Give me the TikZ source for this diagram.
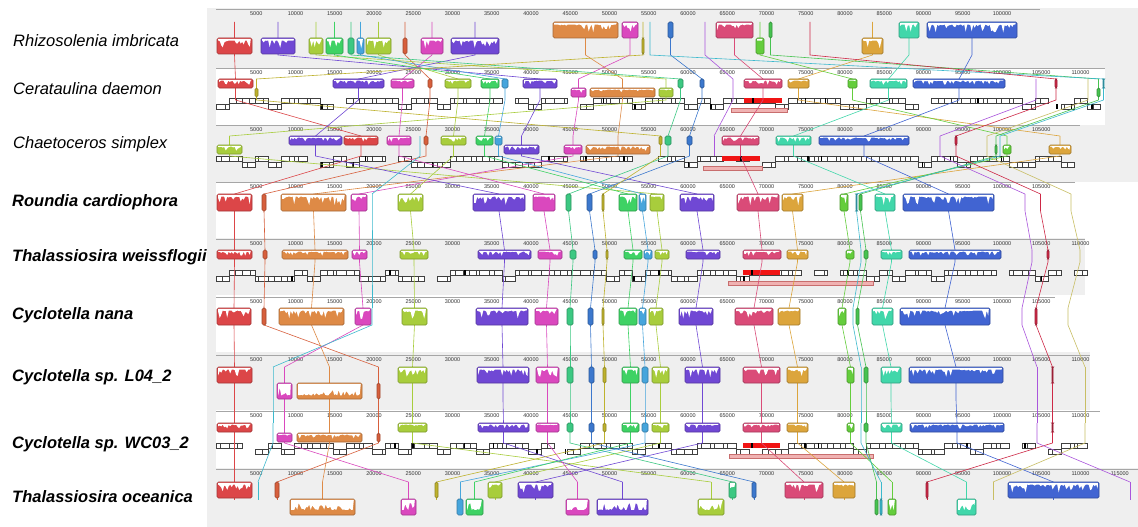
\documentclass[tikz,border=0pt]{standalone}
\usepackage{fontspec}
\setmainfont{Liberation Sans}
\usepackage{tikz}

\definecolor{panelgray}{RGB}{239,239,239}
\definecolor{lcbred}{RGB}{220,70,72}
\definecolor{lcbrust}{RGB}{215,95,60}
\definecolor{lcborange}{RGB}{222,138,70}
\definecolor{lcbmagenta}{RGB}{218,72,190}
\definecolor{lcblime}{RGB}{168,205,60}
\definecolor{lcbpurple}{RGB}{112,72,212}
\definecolor{lcbmint}{RGB}{60,200,130}
\definecolor{lcbblue}{RGB}{60,120,205}
\definecolor{lcbsky}{RGB}{70,165,220}
\definecolor{lcbolive}{RGB}{190,178,45}
\definecolor{lcbgreen}{RGB}{62,210,100}
\definecolor{lcbrose}{RGB}{218,75,120}
\definecolor{lcbgold}{RGB}{220,165,60}
\definecolor{lcbleaf}{RGB}{100,205,60}
\definecolor{lcbfern}{RGB}{70,195,80}
\definecolor{lcbcyan}{RGB}{60,185,205}
\definecolor{lcbturq}{RGB}{65,215,170}
\definecolor{lcbroyal}{RGB}{65,100,210}
\definecolor{lcbcrim}{RGB}{205,40,70}
\definecolor{lcbviolet}{RGB}{170,85,220}
\definecolor{lcbkhaki}{RGB}{200,190,100}
\definecolor{rrnared}{RGB}{240,20,20}
\definecolor{rrnapale}{RGB}{240,178,178}
\definecolor{rrnaedge}{RGB}{200,110,110}

\tikzset{
    lcbblock/.style={fill=#1, draw=#1!75!black, line width=0.7pt, rounded corners=1.5pt},
    lcbline/.style={draw=#1, line width=0.6pt},
    genebox/.style={draw=black!75, fill=white, line width=0.35pt},
    ticklab/.style={font=\fontsize{5.5}{6}\selectfont, text=black!80, inner sep=0pt},
    rulerline/.style={draw=black!35, line width=0.8pt},
    specieslab/.style={anchor=base west, inner sep=0pt, font=\fontsize{16.5}{18}\selectfont\itshape},
    specieslabbf/.style={anchor=base west, inner sep=0pt, font=\fontsize{16.5}{18}\selectfont\bfseries\itshape},
    rrnabar/.style={fill=rrnapale, draw=rrnaedge, line width=0.5pt}}

\newcommand\ruler[4]{%
    \draw[rulerline] (216,#2-5) -- (#3,#2-5);
    \foreach \k in {5,10,...,#4}{
        \node[ticklab] (tick-#1-\k) at ({217+7.85*\k},#2) {\k000};
    }
}

\newcommand\genes[4]{%
    \pgfmathsetseed{#4}
    \foreach \gi in {0,...,#3}{
        \pgfmathsetmacro\gx{#2+13*\gi}
        \pgfmathsetmacro\gy{#1+(rnd<0.62 ? 0 : 6)}
        \pgfmathsetmacro\gs{\gx+3+7*rnd}
        \pgfmathtruncatemacro\gskip{rnd<0.08 ? 1 : 0}
        \ifnum\gskip=0
            \draw[genebox] (\gx,\gy) rectangle (\gs,\gy+5);
            \draw[genebox] (\gs,\gy) rectangle (\gx+13,\gy+5);
        \fi
        \pgfmathtruncatemacro\gtrna{rnd<0.14 ? 1 : 0}
        \ifnum\gtrna=1
            \pgfmathsetmacro\gtx{\gx+11*rnd}
            \fill[black] (\gtx,\gy) rectangle (\gtx+1.6,\gy+5);
        \fi
    }
}

\newcommand\lcb[5]{%
    \foreach \xl/\xr/\tr [count=\rw] in {#5}{
        \pgfmathtruncatemacro\ri{\rw-1}
        \pgfmathsetmacro\xc{(\xl+\xr)/2}
        \pgfmathsetmacro\yi{{22,79,136,194,250,308,367,423,482}[\ri]}
        \pgfmathsetmacro\yo{{55,100,156,211,262,325,400,443,500}[\ri]}
        \coordinate (#1-\rw-in) at (\xc,\yi);
        \coordinate (#1-\rw-out) at (\xc,\yo);
    }
    \pgfmathtruncatemacro\lastseg{#4-1}
    \foreach \rw [evaluate=\rw as \rn using int(\rw+1)] in {#3,...,\lastseg}{
        \draw[lcbline=#2] (#1-\rw-in) -- (#1-\rw-out) -- (#1-\rn-in);
    }
    \draw[lcbline=#2] (#1-#4-in) -- (#1-#4-out);
    \foreach \xl/\xr/\tr [count=\rw] in {#5}{
        \pgfmathtruncatemacro\ri{\rw-1}
        \if n\tr\else
            \def\pbase{0.12}\def\pamp{0.55}
            \if u\tr
                \pgfmathsetmacro\yt{{22,79,136,194,250,308,367,423,482}[\ri]}
            \else
                \pgfmathsetmacro\yt{{38,88,145,211,259,325,383,433,499}[\ri]}
                \ifnum\rw=7 \def\pbase{0.8}\def\pamp{-0.55}\fi
                \ifnum\rw=9 \def\pbase{0.7}\def\pamp{-0.5}\fi
            \fi
            \pgfmathsetmacro\hh{{16,9,9,17,9,17,16,9,16}[\ri]}
            \draw[lcbblock=#2] (\xl,\yt) rectangle (\xr,\yt+\hh);
            \pgfmathsetmacro\bw{\xr-\xl}
            \ifdim\bw pt>6pt
                \pgfmathsetmacro\pa{\xl+1.2}
                \pgfmathsetmacro\pb{\xl+2.7}
                \pgfmathsetmacro\pe{\xr-1.2}
                \fill[white] (\pa,\yt+0.8) \foreach \px in {\pa,\pb,...,\pe}{ -- (\px,{\yt+0.8+(\hh-1.6)*(\pbase+\pamp*rnd^4)}) } -- (\pe,\yt+0.8) -- cycle;
            \fi
        \fi
    }
}

\begin{document}
\begin{tikzpicture}[x=1pt, y=-1pt]

    \useasboundingbox (0,0) rectangle (1138,527);
    \fill[white] (0,0) rectangle (1138,527);

    \fill[panelgray] (207,8) rectangle (1138,527);
    \fill[white] (216,68) rectangle (1105,125);
    \fill[white] (216,182) rectangle (1138,238);
    \fill[white] (1085,238) rectangle (1138,295);
    \fill[white] (216,295) rectangle (1138,352);
    \fill[white] (1090,352) rectangle (1138,410);
    \fill[white] (216,410) rectangle (1138,468);

    \ruler{1}{14}{1040}{100}
    \ruler{2}{73}{1105}{110}
    \ruler{3}{130}{1080}{105}
    \ruler{4}{187}{1075}{105}
    \ruler{5}{244}{1085}{110}
    \ruler{6}{302}{1055}{105}
    \ruler{7}{360}{1090}{110}
    \ruler{8}{416}{1100}{110}
    \ruler{9}{474}{1138}{115}

    \genes{98}{216}{67}{11}
    \genes{156}{216}{65}{23}
    \genes{270}{216}{66}{37}
    \genes{443}{216}{66}{41}

    \fill[rrnared] (744,98) rectangle (782,103);
    \fill[rrnared] (722,156) rectangle (760,161);
    \fill[rrnared] (743,270) rectangle (780,275);
    \fill[rrnared] (743,443) rectangle (780,448);
    \fill[black] (752,98) rectangle (753.6,103);
    \fill[black] (740,156) rectangle (741.6,161);
    \fill[black] (751,270) rectangle (752.6,275);
    \fill[black] (751,443) rectangle (752.6,448);

    \draw[rrnabar] (731,108) rectangle (787,112);
    \draw[rrnabar] (703,166) rectangle (762,170);
    \draw[rrnabar] (728,281) rectangle (873,285);
    \draw[rrnabar] (729,454) rectangle (873,458);

    \pgfmathsetseed{7}
    \lcb{A}{lcbred}{1}{9}{217/252/d, 218/253/u, 344/378/u, 217/252/u, 217/252/u, 217/251/u, 217/252/u, 217/252/u, 217/252/u}
    \lcb{B}{lcbrust}{1}{9}{403/407/d, 428/432/u, 424/428/u, 262/266/u, 263/267/u, 262/266/u, 377/380/d, 377/380/d, 275/279/u}
    \lcb{C}{lcborange}{1}{9}{553/618/u, 590/655/d, 586/650/d, 281/346/u, 282/348/u, 279/344/u, 297/362/d, 297/362/d, 290/355/d}
    \lcb{D}{lcbmagenta}{1}{9}{622/638/u, 571/586/d, 564/582/d, 351/367/u, 352/367/u, 355/371/u, 277/292/d, 277/292/d, 401/416/d}
    \lcb{E}{lcblime}{1}{9}{366/391/d, 445/471/u, 441/466/u, 398/423/u, 400/428/u, 402/427/u, 398/427/u, 398/427/u, 698/724/d}
    \lcb{F}{lcblime}{1}{9}{309/323/d, 659/673/d, 217/242/d, 650/664/u, 655/669/u, 649/663/u, 652/669/u, 652/669/u, 488/502/u}
    \lcb{G}{lcbpurple}{1}{9}{451/499/d, 333/384/u, 289/342/u, 473/525/u, 478/531/u, 476/528/u, 477/529/u, 478/529/u, 597/648/d}
    \lcb{H}{lcbpurple}{1}{9}{261/295/d, 523/557/u, 504/539/d, 680/714/u, 686/720/u, 679/713/u, 685/720/u, 685/720/u, 518/553/u}
    \lcb{I}{lcbmagenta}{1}{9}{421/443/d, 391/414/u, 387/411/u, 533/555/u, 538/562/u, 535/558/u, 536/559/u, 536/559/u, 566/589/d}
    \lcb{J}{lcbmint}{1}{9}{348/354/d, 678/683/u, 665/671/u, 566/571/u, 570/576/u, 567/573/u, 567/573/u, 567/573/u, 729/736/u}
    \lcb{K}{lcbblue}{1}{9}{668/673/u, 700/704/u, 687/692/u, 587/592/u, 593/597/u, 588/593/u, 589/594/u, 589/594/u, 752/756/u}
    \lcb{L}{lcbsky}{1}{9}{357/364/d, 502/508/u, 495/502/u, 639/646/u, 644/652/u, 639/646/u, 642/648/u, 642/648/u, 457/463/d}
    \lcb{M}{lcbolive}{1}{9}{642/644/d, 255/258/d, 659/662/u, 602/604/u, 606/608/u, 602/604/u, 603/606/u, 603/606/u, 435/438/u}
    \lcb{N}{lcbgreen}{1}{9}{326/343/d, 481/499/u, 476/493/u, 619/637/u, 624/642/u, 619/637/u, 622/639/u, 622/639/u, 466/483/d}
    \lcb{O}{lcbrose}{1}{9}{716/753/u, 744/782/u, 722/759/u, 737/779/u, 743/781/u, 735/773/u, 743/780/u, 743/780/u, 785/823/u}
    \lcb{P}{lcbgold}{1}{9}{862/883/d, 788/809/u, 1049/1071/d, 782/803/u, 787/808/u, 778/800/u, 787/808/u, 787/808/u, 833/855/u}
    \lcb{Q}{lcbleaf}{1}{9}{756/764/d, 848/857/u, 1003/1011/d, 840/848/u, 846/854/u, 838/846/u, 847/854/u, 847/854/u, 888/896/d}
    \lcb{R}{lcbfern}{1}{9}{769/772/u, 1097/1100/d, 995/997/d, 859/862/u, 864/868/u, 856/859/u, 864/868/u, 864/868/u, 875/878/d}
    \lcb{S}{lcbcyan}{1}{9}{650/650/n, 1103/1104/u, 1000/1000/n, 856/857/u, 861/861/n, 853/853/n, 861/861/n, 861/861/n, 880/882/d}
    \lcb{T}{lcbturq}{1}{9}{899/919/u, 870/907/u, 776/811/u, 875/895/u, 881/902/u, 872/893/u, 881/901/u, 881/902/u, 957/976/d}
    \lcb{U}{lcbroyal}{1}{9}{927/1017/u, 913/1005/u, 819/909/u, 903/994/u, 909/1001/u, 900/990/u, 909/1003/u, 910/1004/u, 1008/1099/u}
    \lcb{V}{lcbcrim}{1}{9}{810/810/n, 1055/1057/u, 955/957/u, 1040/1041/n, 1047/1049/u, 1035/1037/u, 1052/1053/u, 1052/1053/u, 926/928/u}
    \lcb{W}{lcbviolet}{2}{9}{1036/1036/n, 1036/1036/n, 940/940/n, 1025/1025/n, 1032/1032/n, 1022/1022/n, 1037/1037/n, 1037/1037/n, 1130/1130/n}
    \lcb{X}{lcbkhaki}{2}{9}{1088/1088/n, 1088/1088/n, 987/987/n, 1071/1071/n, 1080/1080/n, 1068/1068/n, 1085/1085/n, 1085/1085/n, 993/993/n}
    \lcb{Y}{lcbcyan}{3}{9}{420/420/n, 420/420/n, 420/420/n, 372/372/n, 372/372/n, 372/372/n, 273/273/n, 273/273/n, 258/258/n}
    \lcb{Z}{lcbviolet}{1}{3}{705/705/n, 733/733/n, 714/714/n}

    \node[specieslab] (rhizo) at (13,47) {Rhizosolenia imbricata};
    \node[specieslab] (cerat) at (13,95) {Cerataulina daemon};
    \node[specieslab] (chaeto) at (13,148) {Chaetoceros simplex};
    \node[specieslabbf] (roundia) at (12,206) {Roundia cardiophora};
    \node[specieslabbf] (tweiss) at (12,261) {Thalassiosira weissflogii};
    \node[specieslabbf] (cnana) at (12,319) {Cyclotella nana};
    \node[specieslabbf] (cl04) at (12,381) {Cyclotella sp. L04\_2};
    \node[specieslabbf] (cwc03) at (12,448) {Cyclotella sp. WC03\_2};
    \node[specieslabbf] (tocean) at (12,502) {Thalassiosira oceanica};

\end{tikzpicture}
\end{document}
